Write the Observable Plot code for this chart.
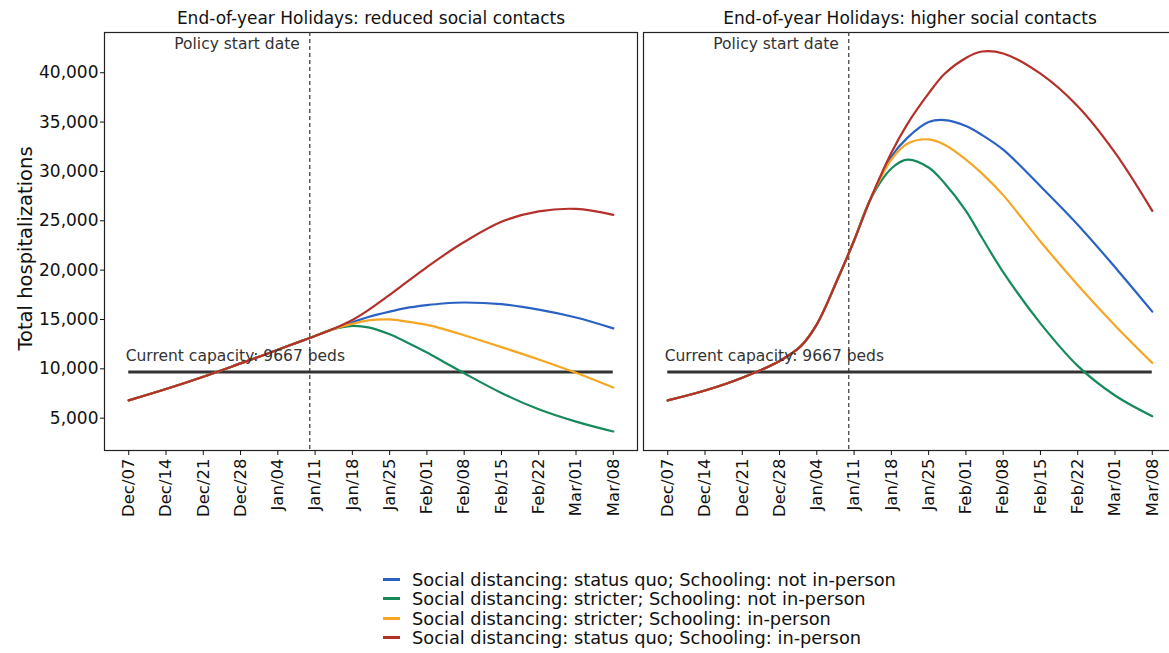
<!DOCTYPE html>
<html>
<head>
<meta charset="utf-8">
<script src="https://cdn.jsdelivr.net/npm/d3@7"></script>
<script src="https://cdn.jsdelivr.net/npm/@observablehq/plot@0.6"></script>
<style>
  html, body { margin: 0; padding: 0; background: #fff; overflow: hidden; }
  body { font-family: "DejaVu Sans", Arial, sans-serif; width: 1169px; height: 653px; }
  #legend { margin: 30px 0 0 383px; font-size: 17.8px; line-height: 19.3px; color: #111; }
  .item { display: flex; align-items: center; white-space: nowrap; }
  .sw { width: 17px; height: 3px; margin-right: 12px; flex: none; }
</style>
</head>
<body>
<div id="chart"></div>
<div id="legend"></div>
<script>
// ---- data ----
const panels = ["reduced", "higher"];
const panelTitles = ["End-of-year Holidays: reduced social contacts", "End-of-year Holidays: higher social contacts"];
const seriesNames = [
  "Social distancing: status quo; Schooling: not in-person",
  "Social distancing: stricter; Schooling: not in-person",
  "Social distancing: stricter; Schooling: in-person",
  "Social distancing: status quo; Schooling: in-person"
];
const seriesColors = ["#2a62c4", "#178a5c", "#f5a623", "#b3302b"];

const dates = ["2020-12-07","2020-12-14","2020-12-21","2020-12-28","2021-01-01","2021-01-04","2021-01-08","2021-01-11","2021-01-14","2021-01-18","2021-01-21","2021-01-25","2021-01-28","2021-02-01","2021-02-04","2021-02-08","2021-02-15","2021-02-22","2021-03-01","2021-03-08"];

// reduced social contacts panel
const reducedQuoRemote    = [6800,7950,9200,10550,11330,11930,12730,13330,13950,14700,15250,15800,16150,16450,16620,16720,16550,16000,15200,14100];
const reducedStrictRemote = [6800,7950,9200,10550,11330,11930,12730,13330,13950,14350,14200,13500,12750,11650,10750,9550,7550,5900,4650,3650];
const reducedStrictInPers = [6800,7950,9200,10550,11330,11930,12730,13330,13950,14550,14900,15000,14800,14450,14050,13400,12200,10950,9600,8100];
const reducedQuoInPers    = [6800,7950,9200,10550,11330,11930,12730,13330,13950,14950,15950,17500,18700,20300,21450,22850,24900,25950,26200,25600];

// higher social contacts panel
const higherQuoRemote     = [6800,7800,9100,10800,12300,14500,19200,23000,27100,31500,33400,35000,35200,34600,33700,32200,28500,24600,20300,15800];
const higherStrictRemote  = [6800,7800,9100,10800,12300,14500,19200,23000,27100,30300,31200,30400,28800,26000,23300,19800,14600,10300,7300,5200];
const higherStrictInPers  = [6800,7800,9100,10800,12300,14500,19200,23000,27100,31200,32800,33250,32700,31200,29800,27600,22900,18500,14400,10600];
const higherQuoInPers     = [6800,7800,9100,10800,12300,14500,19200,23000,27100,31900,34800,37900,39900,41500,42150,41950,39900,36600,31900,26000];

const xTickDates = ["2020-12-07","2020-12-14","2020-12-21","2020-12-28","2021-01-04","2021-01-11","2021-01-18","2021-01-25","2021-02-01","2021-02-08","2021-02-15","2021-02-22","2021-03-01","2021-03-08"];
const yTicks = [5000,10000,15000,20000,25000,30000,35000,40000];
const policyStart = "2021-01-10";
const capacity = 9667;
const yTitle = "Total hospitalizations";

// ---- build table ----
const parse = d3.utcParse("%Y-%m-%d");
const seriesTable = [
  ["reduced", 0, reducedQuoRemote], ["reduced", 1, reducedStrictRemote], ["reduced", 2, reducedStrictInPers], ["reduced", 3, reducedQuoInPers],
  ["higher", 0, higherQuoRemote], ["higher", 1, higherStrictRemote], ["higher", 2, higherStrictInPers], ["higher", 3, higherQuoInPers]
];
const rows = [];
for (const [panel, si, vals] of seriesTable) {
  vals.forEach((v, i) => rows.push({panel, series: seriesNames[si], order: si, date: parse(dates[i]), value: v}));
}
rows.sort((a, b) => a.order - b.order);

const xTicks = xTickDates.map(parse);
const x0 = xTicks[0], x1 = xTicks[xTicks.length - 1];
const pad = (x1 - x0) * 0.05;
const allVals = rows.map(d => d.value);
const yMin = d3.min(allVals), yMax = d3.max(allVals), yPad = (yMax - yMin) * 0.05;

const font = '"DejaVu Sans", Arial, sans-serif';

const chart = Plot.plot({
  width: 1176,
  height: 540,
  marginLeft: 104,
  marginRight: 0,
  marginTop: 32,
  marginBottom: 90,
  style: {fontFamily: font, background: "#fff", color: "#111", maxWidth: "none", overflow: "visible"},
  fx: {domain: panels, paddingInner: 6 / 539, paddingOuter: 0, axis: null, label: null},
  x: {type: "utc", domain: [new Date(+x0 - pad), new Date(+x1 + pad)]},
  y: {domain: [yMin - yPad, yMax + yPad]},
  color: {domain: seriesNames, range: seriesColors},
  marks: [
    Plot.frame({stroke: "#222", strokeWidth: 1.2}),
    Plot.axisY({ticks: yTicks, tickFormat: d3.format(","), fontSize: 17, tickSize: 4, tickPadding: 2, label: null}),
    Plot.axisX({ticks: xTicks, tickFormat: d3.utcFormat("%b/%d"), tickRotate: -90, fontSize: 16.5, tickSize: 5, tickPadding: 3, label: null}),
    Plot.ruleX([parse(policyStart)], {stroke: "#444", strokeDasharray: "4,3", strokeWidth: 1.3}),
    Plot.ruleY([capacity], {x1: () => x0, x2: () => x1, stroke: "#333", strokeWidth: 3}),
    Plot.line(rows, {fx: "panel", x: "date", y: "value", z: "series", stroke: "series", strokeWidth: 2.2, curve: "catmull-rom"}),
    Plot.text([parse(policyStart)], {x: d => d, frameAnchor: "top", lineAnchor: "middle", textAnchor: "end", dx: -10, dy: 12, text: () => "Policy start date", fontSize: 15.5, fill: "#333"}),
    Plot.text([capacity], {x: () => x0, y: d => d, textAnchor: "start", dx: -3, dy: -16, text: d => `Current capacity: ${d} beds`, fontSize: 15.5, fill: "#333"}),
    Plot.text(panels, {fx: d => d, frameAnchor: "top", lineAnchor: "middle", dy: -14, text: (d, i) => panelTitles[i], fontSize: 17, fill: "#111"}),
    Plot.text([yTitle], {fx: () => panels[0], frameAnchor: "left", textAnchor: "middle", lineAnchor: "middle", rotate: -90, dx: -79, dy: 7, text: d => d, fontSize: 19.5, fill: "#111"})
  ]
});
document.getElementById("chart").appendChild(chart);

// ---- legend ----
const legend = document.getElementById("legend");
seriesNames.forEach((name, i) => {
  const item = document.createElement("div");
  item.className = "item";
  const sw = document.createElement("span");
  sw.className = "sw";
  sw.style.background = seriesColors[i];
  const label = document.createElement("span");
  label.textContent = name;
  item.appendChild(sw);
  item.appendChild(label);
  legend.appendChild(item);
});
</script>
</body>
</html>
